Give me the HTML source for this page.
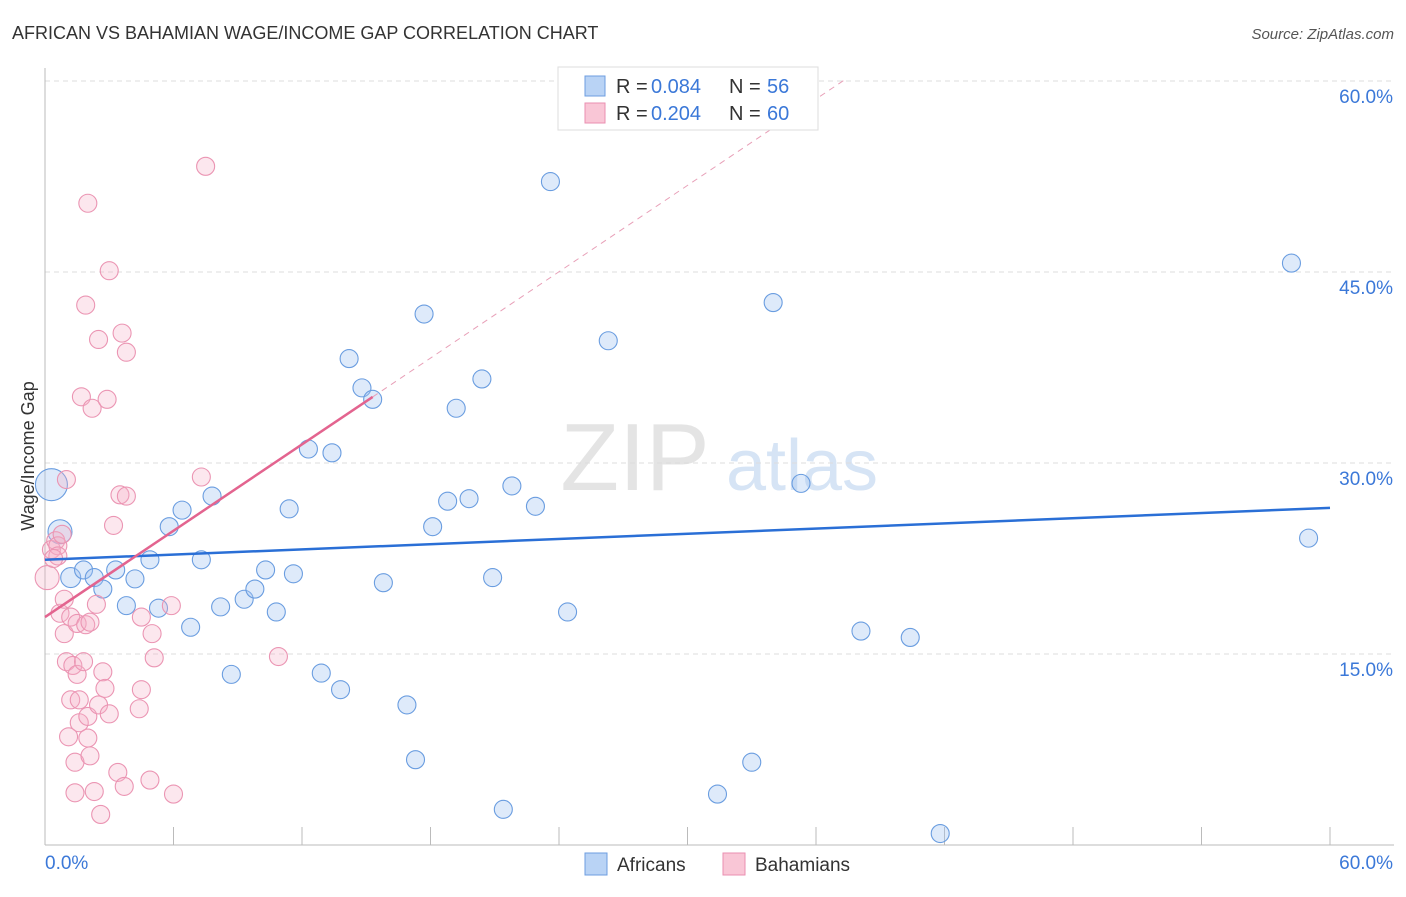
<!DOCTYPE html>
<html><head><meta charset="utf-8">
<style>
body{margin:0;background:#fff;font-family:"Liberation Sans",sans-serif;}
svg text{font-family:"Liberation Sans",sans-serif;}
</style></head>
<body>
<svg id="chart" width="1406" height="892" xmlns="http://www.w3.org/2000/svg">
<text x="12" y="39" font-size="18" fill="#333">AFRICAN VS BAHAMIAN WAGE/INCOME GAP CORRELATION CHART</text>
<text x="1394" y="39" font-size="15" fill="#555" font-style="italic" text-anchor="end">Source: ZipAtlas.com</text>
<text x="635" y="490" font-size="96" fill="#e4e4e4" font-family="Liberation Serif" text-anchor="middle">ZIP</text>
<text x="802" y="490" font-size="72" fill="#d6e4f5" text-anchor="middle">atlas</text>
<g id="grid"></g>
<g id="axes"></g>
<g id="pts"></g>
<g id="trends"></g>
<text transform="translate(34,456) rotate(-90)" font-size="18" fill="#333" text-anchor="middle">Wage/Income Gap</text>
<g>
<rect x="558" y="67" width="260" height="63" fill="#fff" stroke="#ddd"/>
<rect x="585" y="76" width="20" height="20" fill="#b9d3f5" stroke="#6d9ee0"/>
<rect x="585" y="103" width="20" height="20" fill="#f9c6d6" stroke="#ea8fb0"/>
<text x="616" y="93" font-size="20" fill="#333">R = </text><text x="651" y="93" font-size="20" fill="#3b78d8">0.084</text>
<text x="729" y="93" font-size="20" fill="#333">N = </text><text x="767" y="93" font-size="20" fill="#3b78d8">56</text>
<text x="616" y="120" font-size="20" fill="#333">R = </text><text x="651" y="120" font-size="20" fill="#3b78d8">0.204</text>
<text x="729" y="120" font-size="20" fill="#333">N = </text><text x="767" y="120" font-size="20" fill="#3b78d8">60</text>
</g>
<g>
<rect x="585" y="853" width="22" height="22" fill="#b9d3f5" stroke="#6d9ee0"/>
<text x="617" y="871" font-size="19" fill="#333">Africans</text>
<rect x="723" y="853" width="22" height="22" fill="#f9c6d6" stroke="#ea8fb0"/>
<text x="755" y="871" font-size="19" fill="#333">Bahamians</text>
</g>
</svg>
<script>
const yTicks=[15,30,45,60];
const yTickLabels=["15.0%","30.0%","45.0%","60.0%"];
const xTickLabels=["0.0%","60.0%"];
const africanX=[0.3,0.7,1.2,1.8,2.3,2.7,3.3,3.8,4.2,4.9,5.3,5.8,6.4,6.8,7.3,7.8,8.2,8.7,9.3,9.8,10.3,10.8,11.4,11.6,12.3,12.9,13.4,13.8,14.2,14.8,15.3,15.8,16.9,17.3,17.7,18.1,18.8,19.2,19.8,20.4,20.9,21.4,21.8,22.9,23.6,24.4,26.3,31.4,33.0,34.0,35.3,38.1,40.4,41.8,58.2,59.0];
const africanY=[28.3,24.6,21.0,21.6,21.0,20.1,21.6,18.8,20.9,22.4,18.6,25.0,26.3,17.1,22.4,27.4,18.7,13.4,19.3,20.1,21.6,18.3,26.4,21.3,31.1,13.5,30.8,12.2,38.2,35.9,35.0,20.6,11.0,6.7,41.7,25.0,27.0,34.3,27.2,36.6,21.0,2.8,28.2,26.6,52.1,18.3,39.6,4.0,6.5,42.6,28.4,16.8,16.3,0.9,45.7,24.1];
const bahamianX=[0.1,0.3,0.5,0.6,0.6,0.7,0.8,0.9,0.9,1.0,1.0,1.1,1.2,1.2,1.3,1.4,1.4,1.5,1.5,1.6,1.6,1.7,1.8,1.9,1.9,2.0,2.0,2.0,2.1,2.1,2.2,2.3,2.4,2.5,2.5,2.6,2.7,2.8,2.9,3.0,3.0,3.2,3.4,3.5,3.6,3.7,3.8,3.8,4.4,4.5,4.5,4.9,5.0,5.1,5.9,6.0,7.3,7.5,10.9,0.4];
const bahamianY=[21.0,23.2,23.9,23.5,22.7,18.2,24.4,16.6,19.3,28.7,14.4,8.5,17.9,11.4,14.1,6.5,4.1,13.4,17.4,11.4,9.6,35.2,14.4,42.4,17.3,50.4,10.1,8.4,17.5,7.0,34.3,4.2,18.9,39.7,11.0,2.4,13.6,12.3,35.0,10.3,45.1,25.1,5.7,27.5,40.2,4.6,38.7,27.4,10.7,17.9,12.2,5.1,16.6,14.7,18.8,4.0,28.9,53.3,14.8,22.5];
const africanSize=[16,12,10,9,9,9,9,9,9,9,9,9,9,9,9,9,9,9,9,9,9,9,9,9,9,9,9,9,9,9,9,9,9,9,9,9,9,9,9,9,9,9,9,9,9,9,9,9,9,9,9,9,9,9,9,9];
const africanTrend=[22.4,0.068];
const bahamianTrend=[17.9,1.13];
const X0=45,X1=1330,Y0=845,Yb=81;
const xs=v=>X0+(X1-X0)*v/60, ys=v=>Y0-(Y0-Yb)*v/60;
const NS="http://www.w3.org/2000/svg";
function mk(tag,attrs,parent){const e=document.createElementNS(NS,tag);for(const k in attrs)e.setAttribute(k,attrs[k]);document.getElementById(parent).appendChild(e);return e;}
yTicks.forEach((t,i)=>{
 const g=mk('line',{x1:X0,x2:1394,y1:ys(t),y2:ys(t),stroke:'#ddd','stroke-dasharray':'5,4'},'grid');
 
 
 const tx=mk('text',{x:1393,y:ys(t)+22,'font-size':19,fill:'#3b78d8','text-anchor':'end'},'grid');
 tx.textContent=yTickLabels[i];
 
 
});
let a=mk('line',{x1:X0,x2:X0,y1:68,y2:Y0,stroke:'#bbb'},'axes');


a=mk('line',{x1:X0,x2:1394,y1:Y0,y2:Y0,stroke:'#bbb'},'axes');


for(let i=0;i<=10;i++){const t=mk('line',{x1:xs(i*6),x2:xs(i*6),y1:827,y2:Y0,stroke:'#bbb'},'axes');
 
 }
[[0,45,'start'],[60,1393,'end']].forEach((d,i)=>{const t=mk('text',{x:d[1],y:869,'font-size':19,fill:'#3b78d8','text-anchor':d[2]},'axes');t.textContent=xTickLabels[i];
 
 });
africanX.forEach((x,i)=>{const c=mk('circle',{cx:xs(x),cy:ys(africanY[i]),r:africanSize[i],fill:'rgba(160,196,240,0.35)',stroke:'#6a9de0','stroke-width':1.1},'pts');
 
 });
bahamianX.forEach((x,i)=>{const c=mk('circle',{cx:xs(x),cy:ys(bahamianY[i]),r:i==0?12:9,fill:'rgba(245,175,198,0.3)',stroke:'#eb95b3','stroke-width':1.1},'pts');
 
 });
const fa=africanTrend, fb=bahamianTrend;
let l=mk('line',{x1:xs(0),y1:ys(fa[0]),x2:xs(60),y2:ys(fa[0]+fa[1]*60),stroke:'#2a6fd6','stroke-width':2.5},'trends');


const xe=(60.2-fb[0])/fb[1];
l=mk('line',{x1:xs(15.3),y1:ys(fb[0]+fb[1]*15.3),x2:xs(xe),y2:ys(60.2),stroke:'#e8a0b8','stroke-width':1,'stroke-dasharray':'6,5'},'trends');


l=mk('line',{x1:xs(0),y1:ys(fb[0]),x2:xs(15.3),y2:ys(fb[0]+fb[1]*15.3),stroke:'#e3648f','stroke-width':2.5},'trends');


</script>
</body></html>
